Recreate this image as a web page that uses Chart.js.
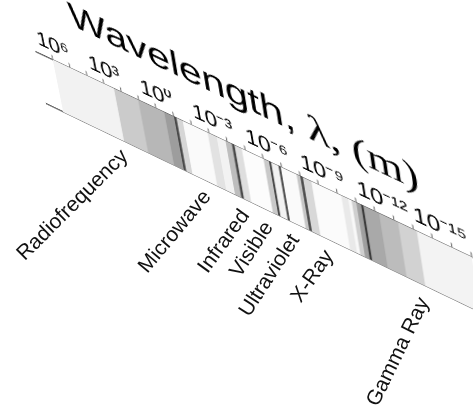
<!DOCTYPE html>
<html>
<head>
<meta charset="utf-8">
<script src="https://cdn.jsdelivr.net/npm/chart.js@4/dist/chart.umd.min.js"></script>
<style>
html,body{margin:0;padding:0;background:#fff;overflow:hidden;width:473px;height:414px;}
#wrap{position:absolute;left:0;top:0;width:460px;height:160px;transform-origin:0 0;}
#overlay{position:absolute;left:0;top:0;pointer-events:none;}
</style>
</head>
<body>
<div id="wrap"><canvas id="c" width="460" height="160"></canvas></div>
<canvas id="overlay" width="473" height="414"></canvas>
<script>
// ---- data (log10 of wavelength in metres) ----
const tickExponents = [6, 3, 0, -3, -6, -9, -12, -15];
const bandEdges = [6, 2.44, 1.04, -0.45, -1.0, -1.15, -1.5, -2.9, -3.4, -3.9, -4.25, -4.4, -4.8,
  -6.0, -6.3, -6.42, -6.82, -6.94, -7.8, -8.0, -8.14, -8.6, -10.2, -10.57, -10.75, -11.0,
  -11.25, -11.38, -12.2, -13.19, -14.17, -17];
const bandShades = ['#f2f2f2', '#cbcbcb', '#b7b7b7', '#9d9d9d', '#4a4a4a', '#d6d6d6', '#fafafa',
  '#e2e2e2', '#f2f2f2', '#bdbdbd', '#4a4a4a', '#dedede', '#fcfcfc', '#c9c9c9', '#4a4a4a',
  '#f2f2f2', '#4a4a4a', '#fafafa', '#c6c6c6', '#4a4a4a', '#d8d8d8', '#fbfbfb', '#e9e9e9',
  '#f8f8f8', '#cfcfcf', '#9f9f9f', '#3e3e3e', '#a9a9a9', '#bcbcbc', '#d2d2d2', '#f3f3f3'];
const categories = ['Radiofrequency', 'Microwave', 'Infrared', 'Visible', 'Ultraviolet', 'X-Ray', 'Gamma Ray'];
const categoryDecade = [2.15, -2.6, -4.75, -6.05, -7.5, -9.35, -14.4];

// ---- layout (not data) ----
const labelAngles = [45, 50, 54, 57, 57, 55, 64];
const labelDrop = 14;
// where the band corners (10^6 and 10^-16, top and bottom) land on the page
const screenCorners = [[53, 59.6], [452, 247.5], [63.5, 112], [460.3, 302.5]];

const SUP = {'0':'\u2070','1':'\u00B9','2':'\u00B2','3':'\u00B3','4':'\u2074','5':'\u2075','6':'\u2076','7':'\u2077','8':'\u2078','9':'\u2079','-':'\u207B'};
function tickLabel(v) {
  const e = String(v).split('').map(ch => SUP[ch]).join('');
  return ' '.repeat(e.length) + '10' + e;
}

function solveHomography(src, dst) {
  const A = [], b = [];
  for (let i = 0; i < 4; i++) {
    const [x, y] = src[i], [u, v] = dst[i];
    A.push([x, y, 1, 0, 0, 0, -u * x, -u * y]); b.push(u);
    A.push([0, 0, 0, x, y, 1, -v * x, -v * y]); b.push(v);
  }
  const n = 8;
  for (let c = 0; c < n; c++) {
    let p = c;
    for (let r = c + 1; r < n; r++) if (Math.abs(A[r][c]) > Math.abs(A[p][c])) p = r;
    [A[c], A[p]] = [A[p], A[c]]; [b[c], b[p]] = [b[p], b[c]];
    for (let r = 0; r < n; r++) {
      if (r === c) continue;
      const f = A[r][c] / A[c][c];
      for (let k = c; k < n; k++) A[r][k] -= f * A[c][k];
      b[r] -= f * b[c];
    }
  }
  return b.map((v, i) => v / A[i][i]);
}
function applyH(h, x, y) {
  const w = h[6] * x + h[7] * y + 1;
  return [(h[0] * x + h[1] * y + h[2]) / w, (h[3] * x + h[4] * y + h[5]) / w];
}

const titlePlugin = {
  id: 'bandTitle',
  afterDraw(chart) {
    const ctx = chart.ctx, xs = chart.scales.x, top = chart.chartArea.top;
    ctx.save();
    ctx.fillStyle = '#000';
    ctx.textBaseline = 'alphabetic';
    ctx.textAlign = 'left';
    ctx.translate(xs.getPixelForValue(4.4), top - 53);
    ctx.rotate(0.9 * Math.PI / 180);
    ctx.scale(1, 0.9);
    ctx.font = '42px "Liberation Sans", Arial, sans-serif';
    const part1 = 'Wavelength, ';
    ctx.fillText(part1, 0, 0);
    const w1 = ctx.measureText(part1).width;
    ctx.font = '44px "Liberation Serif", "Times New Roman", serif';
    ctx.fillText('\u03BB, (m)', w1, 0);
    ctx.restore();
  }
};

const warpPlugin = {
  id: 'warp',
  afterDraw(chart) {
    const xs = chart.scales.x, a = chart.chartArea;
    const src = [[xs.getPixelForValue(6), a.top], [xs.getPixelForValue(-16), a.top],
                 [xs.getPixelForValue(6), a.bottom], [xs.getPixelForValue(-16), a.bottom]];
    const h = solveHomography(src, screenCorners);
    document.getElementById('wrap').style.transform =
      `matrix3d(${h[0]},${h[3]},0,${h[6]},${h[1]},${h[4]},0,${h[7]},0,0,1,0,${h[2]},${h[5]},0,1)`;
    const oc = document.getElementById('overlay').getContext('2d');
    oc.clearRect(0, 0, 473, 414);
    oc.fillStyle = '#111';
    oc.font = '21px "Liberation Sans", Arial, sans-serif';
    oc.textAlign = 'right';
    oc.textBaseline = 'alphabetic';
    categories.forEach((name, i) => {
      const [sx, sy] = applyH(h, xs.getPixelForValue(categoryDecade[i]), a.bottom);
      oc.save();
      oc.translate(sx, sy + labelDrop);
      oc.rotate(-labelAngles[i] * Math.PI / 180);
      oc.fillText(name, 0, 0);
      oc.restore();
    });
  }
};

const datasets = bandShades.map((c, i) => ({
  data: [[bandEdges[i], bandEdges[i + 1]]],
  backgroundColor: c,
  borderColor: c,
  borderWidth: 0.6,
  borderSkipped: false,
  barPercentage: 1,
  categoryPercentage: 1,
  grouped: false
}));

new Chart(document.getElementById('c'), {
  type: 'bar',
  data: { labels: ['band'], datasets },
  options: {
    indexAxis: 'y',
    responsive: false,
    animation: false,
    devicePixelRatio: 2,
    layout: { padding: { top: 66, left: 10, right: 10, bottom: 6 } },
    plugins: { legend: { display: false }, tooltip: { enabled: false }, title: { display: false } },
    scales: {
      x: {
        type: 'linear', position: 'top', min: -17, max: 7, reverse: true,
        ticks: {
          stepSize: 1, autoSkip: false, maxRotation: 0, padding: -2, color: '#000',
          font: { family: '"Liberation Sans", Arial, sans-serif', size: 23 },
          callback: v => tickExponents.includes(v) ? tickLabel(v) : ''
        },
        grid: {
          drawOnChartArea: false, drawTicks: true, tickLength: 5, lineWidth: 1.2,
          color: c => (c.tick && c.tick.value === 7) ? 'rgba(0,0,0,0)' : '#7a7a7a'
        },
        border: { display: true, color: '#5a5a5a', width: 1.6 }
      },
      x2: {
        type: 'linear', position: 'bottom', min: -17, max: 7, reverse: true,
        ticks: { display: false },
        grid: { display: false, drawTicks: false },
        border: { display: true, color: '#5a5a5a', width: 1.6 }
      },
      y: { display: false }
    }
  },
  plugins: [titlePlugin, warpPlugin]
});
</script>
</body>
</html>
